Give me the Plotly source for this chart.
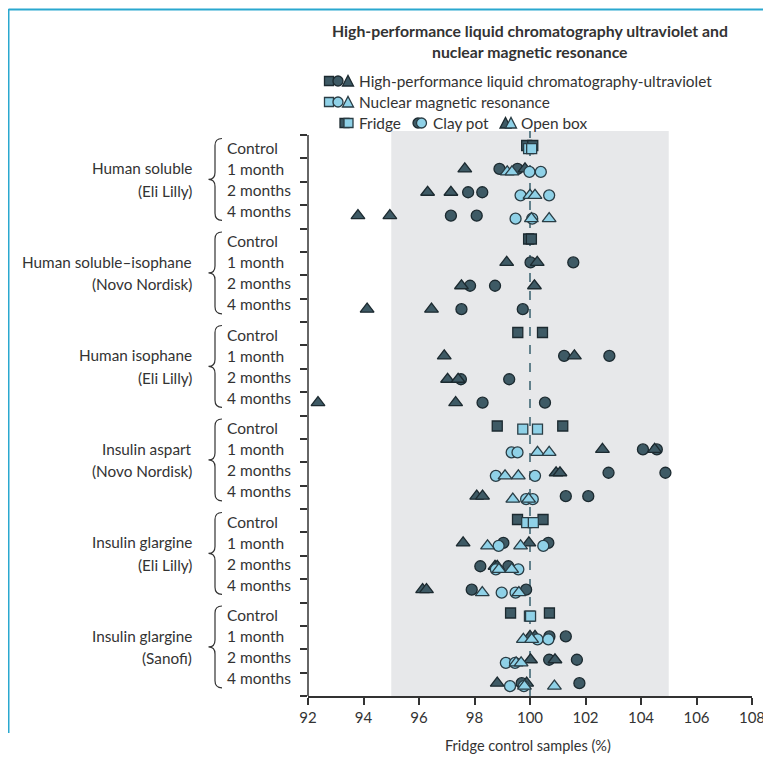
import plotly.graph_objects as go

# ---------------- data ----------------
groups = ["Human soluble", "Human soluble–isophane", "Human isophane",
          "Insulin aspart", "Insulin glargine", "Insulin glargine"]
makers = ["(Eli Lilly)", "(Novo Nordisk)", "(Eli Lilly)",
          "(Novo Nordisk)", "(Eli Lilly)", "(Sanofi)"]
timepoints = ["Control", "1 month", "2 months", "4 months"]
x_ticks = [92, 94, 96, 98, 100, 102, 104, 106, 108]

# Fridge control rows (two replicates per group)
hplc_fridge = [[99.88, 100.1], [99.95, 100.05], [99.56, 100.45],
               [98.82, 101.18], [99.55, 100.47], [99.3, 100.7]]
nmr_fridge = [[99.95, 100.06], [], [], [99.74, 100.27],
              [99.88, 100.12], [99.98, 100.02]]

# month rows (1, 2, 4 months) – two replicates each
hplc_clay = [
    [[98.9, 99.55], [97.77, 98.28], [97.15, 98.08]],
    [[100.02, 101.56], [97.84, 98.74], [97.53, 99.74]],
    [[101.23, 102.86], [97.51, 99.25], [98.29, 100.54]],
    [[104.07, 104.57], [102.83, 104.88], [101.29, 102.1]],
    [[99.04, 100.66], [98.21, 99.22], [97.9, 99.86]],
    [[100.7, 101.29], [100.69, 101.69], [99.7, 101.78]],
]
hplc_open = [
    [[97.65, 99.82], [96.31, 97.15], [93.8, 94.95]],
    [[99.16, 100.26], [97.53, 100.16], [94.13, 96.45]],
    [[96.91, 101.6], [97.03, 97.41], [92.36, 97.32]],
    [[102.61, 104.49], [100.94, 101.08], [98.08, 98.29]],
    [[97.59, 99.96], [98.74, 98.82], [96.13, 96.27]],
    [[100.0, 100.18], [100.02, 100.9], [98.82, 99.88]],
]
nmr_clay = [
    [[99.98, 100.39], [99.66, 100.69], [99.48, 100.08]],
    [[], [], []],
    [[], [], []],
    [[99.34, 99.55], [98.77, 100.18], [99.86, 100.1]],
    [[98.87, 100.48], [98.77, 99.58], [98.98, 99.48]],
    [[100.27, 100.66], [99.13, 99.46], [99.28, 99.78]],
]
nmr_open = [
    [[99.18, 99.35], [100.0, 100.18], [100.05, 100.69]],
    [[], [], []],
    [[], [], []],
    [[100.27, 100.69], [99.1, 99.58], [99.38, 99.95]],
    [[98.47, 99.66], [98.88, 99.34], [98.28, 99.6]],
    [[99.76, 100.06], [99.5, 99.68], [99.8, 100.88]],
]

# ---------------- style ----------------
FONT = "Lato"
TXT = "#333333"
DARK = "#3e5a65"
DARK_LINE = "#1c2a30"
LIGHT = "#8fd1e7"
LIGHT_LINE = "#2a3d45"
SHADE = "#e7e8ea"
FRAME = "#2aa8cf"

OFF = 8  # page body margin
W, H = 771 - OFF, 758 - OFF
# plot area in screen pixels
SL, SR, ST, SB = 308, 752, 131, 696
L, R, T, B = SL - OFF, SR - OFF, ST - OFF, SB - OFF
Y_TOP = -0.5 - 4 / ((SB - 135) / 24.0)


def px(x):
    return (x - SL) / (SR - SL)


def py(y):
    return (SB - y) / (SB - ST)


def fridge_xy(vals, off):
    xs, ys = [], []
    for g, reps in enumerate(vals):
        for v in reps:
            xs.append(v)
            ys.append(4 * g + off)
    return xs, ys


def month_xy(vals, off):
    xs, ys = [], []
    for g, rows in enumerate(vals):
        for r, reps in enumerate(rows, start=1):
            for v in reps:
                xs.append(v)
                ys.append(4 * g + r + off)
    return xs, ys


fig = go.Figure()

DOFF, LOFF = -0.05, 0.08
series = [
    (fridge_xy(hplc_fridge, DOFF), "square", DARK, DARK_LINE, 10),
    (month_xy(hplc_clay, DOFF), "circle", DARK, DARK_LINE, 11),
    (month_xy(hplc_open, DOFF), "triangle-up", DARK, DARK_LINE, 12),
    (fridge_xy(nmr_fridge, LOFF), "square", LIGHT, LIGHT_LINE, 10),
    (month_xy(nmr_clay, LOFF), "circle", LIGHT, LIGHT_LINE, 11),
    (month_xy(nmr_open, LOFF), "triangle-up", LIGHT, LIGHT_LINE, 12),
]
for (xs, ys), sym, fill, line, size in series:
    fig.add_trace(go.Scatter(
        x=xs, y=ys, mode="markers", showlegend=False, hoverinfo="x",
        marker=dict(symbol=sym, size=size, color=fill,
                    line=dict(color=line, width=1.3))))

shapes = []
# shaded band and dashed reference line
shapes.append(dict(type="rect", xref="x", yref="paper", x0=95, x1=105, y0=0, y1=1,
                   fillcolor=SHADE, line=dict(width=0), layer="below"))
shapes.append(dict(type="line", xref="x", yref="paper", x0=100, x1=100, y0=0, y1=1,
                   line=dict(color="#62818c", width=2, dash="dash"), layer="below"))
# y axis line
shapes.append(dict(type="line", xref="paper", yref="y", x0=0, x1=0, y0=-0.5, y1=23.5,
                   line=dict(color=TXT, width=1.5)))
# page frame
shapes.append(dict(type="line", xref="paper", yref="paper", x0=px(8.5), x1=px(8.5),
                   y0=py(9), y1=py(733), line=dict(color=FRAME, width=2)))
shapes.append(dict(type="line", xref="paper", yref="paper", x0=px(8.5), x1=px(771),
                   y0=py(9.5), y1=py(9.5), line=dict(color=FRAME, width=2)))

annotations = []
# braces + labels
for g in range(len(groups)):
    c = 4 * g + 1.4
    x1, xm, x0 = px(222), px(215), px(208.5)
    top, bot, d = c - 1.75, c + 1.75, 0.3
    path = (f"M {x1},{top} Q {xm},{top} {xm},{top + d} L {xm},{c - d} "
            f"Q {xm},{c} {x0},{c} Q {xm},{c} {xm},{c + d} L {xm},{bot - d} "
            f"Q {xm},{bot} {x1},{bot}")
    shapes.append(dict(type="path", xref="paper", yref="y", path=path,
                       line=dict(color=TXT, width=1.2)))
    annotations.append(dict(text=groups[g], xref="paper", yref="y", x=px(194), y=c - 0.48,
                            xanchor="right", yanchor="middle", showarrow=False,
                            font=dict(family=FONT, size=15.3, color=TXT)))
    annotations.append(dict(text=makers[g], xref="paper", yref="y", x=px(194), y=c + 0.48,
                            xanchor="right", yanchor="middle", showarrow=False,
                            font=dict(family=FONT, size=15.3, color=TXT)))
    for r, tp in enumerate(timepoints):
        annotations.append(dict(text=tp, xref="paper", yref="y", x=px(225),
                                y=c + (r - 1.5) * 0.9, xanchor="left", yanchor="middle",
                                showarrow=False, font=dict(family=FONT, size=15.5, color=TXT)))

# title
annotations.append(dict(text="<b>High-performance liquid chromatography ultraviolet and</b>",
                        xref="paper", yref="paper", x=px(530), y=py(31), xanchor="center",
                        yanchor="middle", showarrow=False,
                        font=dict(family=FONT, size=15.8, color=TXT)))
annotations.append(dict(text="<b>nuclear magnetic resonance</b>",
                        xref="paper", yref="paper", x=px(530), y=py(52), xanchor="center",
                        yanchor="middle", showarrow=False,
                        font=dict(family=FONT, size=15.8, color=TXT)))
# x title
annotations.append(dict(text="Fridge control samples (%)", xref="paper", yref="paper",
                        x=px(528), y=py(745), xanchor="center", yanchor="middle",
                        showarrow=False, font=dict(family=FONT, size=14.5, color=TXT)))


# legend glyphs
def sq(cx, cy, s, fill, line):
    return dict(type="rect", xref="paper", yref="paper", x0=px(cx - s / 2), x1=px(cx + s / 2),
                y0=py(cy + s / 2), y1=py(cy - s / 2), fillcolor=fill,
                line=dict(color=line, width=1.3))


def circ(cx, cy, s, fill, line):
    return dict(type="circle", xref="paper", yref="paper", x0=px(cx - s / 2), x1=px(cx + s / 2),
                y0=py(cy + s / 2), y1=py(cy - s / 2), fillcolor=fill,
                line=dict(color=line, width=1.3))


def tri(cx, cy, s, fill, line):
    p = (f"M {px(cx - s / 2)},{py(cy + s / 2 - 0.5)} L {px(cx + s / 2)},{py(cy + s / 2 - 0.5)} "
         f"L {px(cx)},{py(cy - s / 2)} Z")
    return dict(type="path", xref="paper", yref="paper", path=p, fillcolor=fill,
                line=dict(color=line, width=1.3))


for cy, fill, line in [(81, DARK, DARK_LINE), (102, LIGHT, LIGHT_LINE)]:
    shapes.append(sq(329, cy, 9, fill, line))
    shapes.append(circ(338, cy, 10, fill, line))
    shapes.append(tri(348, cy, 11, fill, line))
cy = 123
shapes.append(sq(344.5, cy, 9, DARK, DARK_LINE))
shapes.append(sq(348.5, cy, 9, LIGHT, LIGHT_LINE))
shapes.append(circ(418, cy, 10, DARK, DARK_LINE))
shapes.append(circ(421.5, cy, 10, LIGHT, LIGHT_LINE))
shapes.append(tri(505.5, cy, 11, DARK, DARK_LINE))
shapes.append(tri(511, cy, 11, LIGHT, LIGHT_LINE))

for text, x, y in [("High-performance liquid chromatography-ultraviolet", 357, 81),
                   ("Nuclear magnetic resonance", 357, 102),
                   ("Fridge", 357, 123), ("Clay pot", 431, 123), ("Open box", 519, 123)]:
    annotations.append(dict(text=text, xref="paper", yref="paper", x=px(x), y=py(y),
                            xanchor="left", yanchor="middle", showarrow=False,
                            font=dict(family=FONT, size=15.4, color=TXT)))

fig.update_layout(
    width=W, height=H,
    margin=dict(l=L, r=W - R, t=T, b=H - B, pad=0, autoexpand=False),
    paper_bgcolor="white", plot_bgcolor="white",
    shapes=shapes, annotations=annotations, showlegend=False,
    xaxis=dict(range=[92, 108], tickvals=x_ticks, ticktext=[str(v) for v in x_ticks],
               showgrid=False, zeroline=False, showline=True, linecolor=TXT, linewidth=1.5,
               ticks="outside", ticklen=7, tickwidth=1.5, tickcolor=TXT, automargin=False,
               tickfont=dict(family=FONT, size=15, color=TXT)),
    yaxis=dict(range=[23.5, Y_TOP], tickvals=[i - 0.5 for i in range(25)],
               showticklabels=False, showgrid=False, zeroline=False, showline=False,
               ticks="outside", ticklen=7, tickwidth=1.5, tickcolor=TXT, automargin=False),
)

fig.write_html("out.html")
